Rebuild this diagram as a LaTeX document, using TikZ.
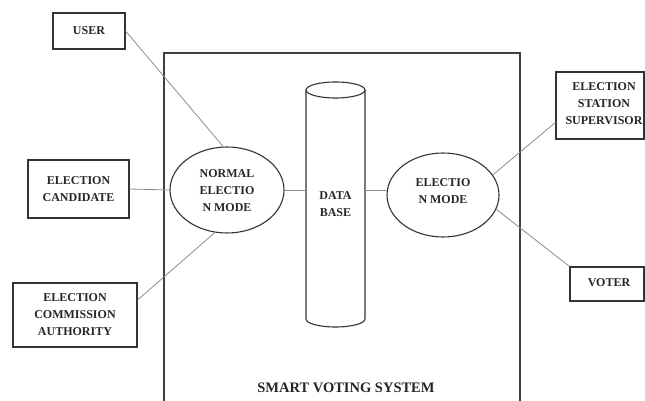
\documentclass[tikz,border=0pt]{standalone}
\usepackage{fontspec}
\setmainfont{Liberation Serif}
\usetikzlibrary{shapes.geometric,calc}
\begin{document}
\begin{tikzpicture}[x=1pt,y=1pt,
  txt/.style={font=\fontsize{12}{17}\selectfont\bfseries, text=black!85, align=center, inner sep=0pt},
  actor/.style={txt, draw=black!80, line width=1.1pt},
  usecase/.style={txt, ellipse, draw=black!80, line width=1.1pt},
  link/.style={draw=black!45, line width=0.8pt}]
\useasboundingbox (0,0) rectangle (645,401);

% system boundary (open at the page's lower edge)
\draw[black!75, line width=1.3pt] (164,0) -- (164,348) -- (520,348) -- (520,0);
\node[txt, font=\fontsize{14.5}{17}\selectfont\bfseries] (sys) at (346,13) {SMART VOTING SYSTEM};

% actors
\node[actor, minimum width=72pt, minimum height=36pt] (user) at (89,370) {USER};
\node[actor, minimum width=101pt, minimum height=58pt] (cand) at (78.5,212) {ELECTION\\CANDIDATE};
\node[actor, minimum width=124pt, minimum height=64pt] (comm) at (75,86) {ELECTION\\COMMISSION\\AUTHORITY};
\node[actor, minimum width=88pt, minimum height=67pt] (sup) at (600,295.5) {};
\node[txt] (suptxt) at (604,297.5) {ELECTION\\STATION\\SUPERVISOR};
\node[actor, minimum width=74pt, minimum height=34pt] (voter) at (607,117) {};
\node[txt] (votertxt) at (609,118) {VOTER};

% use cases
\node[usecase, minimum width=114pt, minimum height=86pt] (normal) at (227,211) {};
\node[txt] (normaltxt) at (227,210) {NORMAL\\ELECTIO\\N MODE};
\node[usecase, minimum width=112pt, minimum height=84pt] (emode) at (443,206) {};
\node[txt] (emodetxt) at (443,210) {ELECTIO\\N MODE};

% database cylinder
\node[minimum width=59pt, minimum height=229pt, inner sep=0pt] (db) at (335.5,196.5) {};
\draw[black!80, line width=1.1pt]
  (306,311) -- (306,82) arc[start angle=180, end angle=360, x radius=29.5pt, y radius=8pt] -- (365,311);
\draw[black!80, line width=1.1pt] (335.5,311) ellipse[x radius=29.5pt, y radius=8pt];
\node[txt] (dbtxt) at (335.5,197) {DATA\\BASE};

% connectors
\draw[link] (user.east) -- (normal.95);
\draw[link] (cand.east) -- (normal.west);
\draw[link] ([yshift=15pt]comm.east) -- (normal.254);
\draw[link] (normal.east) -- (normal.east -| db.west);
\draw[link] (db.east |- normal.east) -- (emode.west |- normal.east);
\draw[link] (emode.22) -- ([yshift=-17pt]sup.west);
\draw[link] (emode.-15) -- (voter.north west);
\end{tikzpicture}
\end{document}
